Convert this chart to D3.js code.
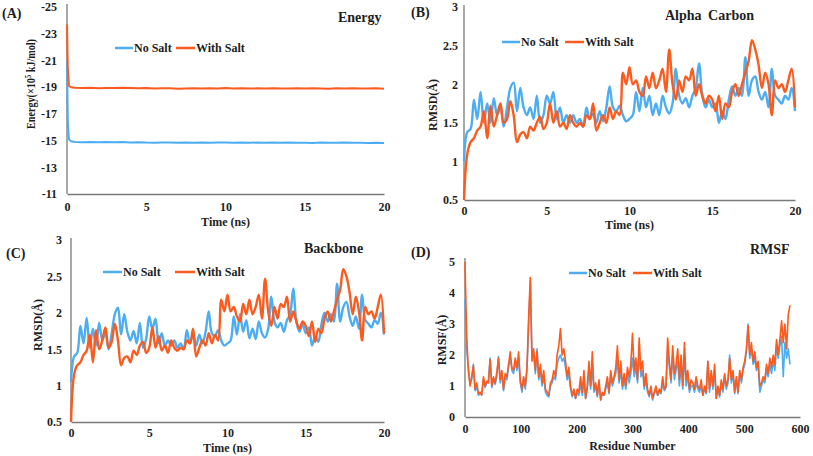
<!DOCTYPE html>
<html><head><meta charset="utf-8">
<script src="https://cdn.jsdelivr.net/npm/d3@7"></script>
<style>
body{margin:0;background:#fff}
svg text{font-family:"Liberation Serif","Times New Roman","DejaVu Serif",serif !important;font-weight:bold;fill:#1e1e1e}
</style>
</head><body>
<svg id="c" width="813" height="456" font-family="Liberation Serif, serif"></svg>
<script>
// ---------- DATA ----------
const timeTicks = [0, 5, 10, 15, 20];
const energyTicks = [-25, -23, -21, -19, -17, -15, -13, -11];
const rmsdTicks = [0.5, 1, 1.5, 2, 2.5, 3];
const residueTicks = [0, 100, 200, 300, 400, 500, 600];
const rmsfTicks = [0, 1, 2, 3, 4, 5];
const seriesNames = ["No Salt", "With Salt"];

const energyTime = [0,0.05,0.12,0.25,0.5,1,1.5,2,2.5,3,3.5,4,4.5,5,5.5,6,6.5,7,7.5,8,8.5,9,9.5,10,10.5,11,11.5,12,12.5,13,13.5,14,14.5,15,15.5,16,16.5,17,17.5,18,18.5,19,19.5,20];
const energyNoSalt = [-21.0,-16.5,-15.1,-14.95,-14.9,-14.88,-14.9,-14.87,-14.9,-14.88,-14.9,-14.86,-14.88,-14.85,-14.84,-14.85,-14.86,-14.83,-14.85,-14.84,-14.86,-14.83,-14.85,-14.86,-14.84,-14.85,-14.83,-14.85,-14.84,-14.86,-14.84,-14.85,-14.83,-14.84,-14.82,-14.85,-14.83,-14.84,-14.85,-14.83,-14.84,-14.82,-14.83,-14.82];
const energyWithSalt = [-23.7,-20.5,-19.1,-19.0,-18.95,-18.93,-18.95,-18.92,-18.94,-18.93,-18.95,-18.93,-18.92,-18.94,-18.9,-18.92,-18.91,-18.88,-18.9,-18.92,-18.9,-18.91,-18.9,-18.93,-18.9,-18.92,-18.89,-18.91,-18.9,-18.92,-18.9,-18.89,-18.91,-18.9,-18.92,-18.9,-18.88,-18.91,-18.9,-18.92,-18.9,-18.89,-18.91,-18.88];

// RMSD sampled every 0.2 ns (0 .. 20 ns)
const caNoSalt = [
1.0,1.38,1.42,1.8,1.55,1.9,1.5,1.75,1.5,1.82,
1.6,1.7,1.45,1.7,1.95,2.02,1.65,1.95,1.7,1.6,
1.7,1.55,1.85,1.5,1.6,1.85,1.75,1.9,1.55,1.7,
1.5,1.6,1.5,1.6,1.5,1.55,1.45,1.7,1.55,1.62,
1.5,1.65,1.52,1.7,1.97,1.7,1.65,1.72,1.6,1.52,
1.55,1.6,1.9,1.65,1.95,1.7,1.85,1.6,1.75,1.6,
1.85,1.7,1.62,1.75,2.2,1.85,1.75,1.82,1.7,1.85,
1.95,2.27,1.85,1.7,1.8,1.7,1.75,1.5,1.65,1.55,
1.8,1.97,1.85,1.95,1.85,2.35,1.85,2.05,2.1,1.9,
1.8,1.9,1.7,2.2,1.85,1.8,1.75,1.85,1.8,1.95,
1.65];
const caWithSalt = [
0.5,1.1,1.25,1.3,1.4,1.45,1.65,1.3,1.72,1.45,
1.6,1.75,1.5,1.55,1.78,1.6,1.25,1.35,1.38,1.3,
1.45,1.4,1.5,1.58,1.42,1.5,1.75,1.5,1.65,1.45,
1.5,1.42,1.6,1.5,1.45,1.5,1.45,1.6,1.55,1.75,
1.4,1.5,1.6,1.5,1.7,1.55,1.65,1.6,2.15,2.0,
2.22,2.0,2.05,1.9,1.85,2.1,1.95,2.15,1.95,2.05,
2.2,1.9,2.45,2.0,1.8,2.05,1.9,2.1,2.05,2.2,
1.85,2.0,1.85,1.75,1.85,1.8,1.65,1.85,1.55,1.75,
1.7,1.9,2.0,1.85,2.0,2.15,2.3,2.57,2.45,2.25,
1.95,2.15,2.0,1.6,2.05,1.95,2.0,1.9,2.05,2.2,
1.7];
const bbNoSalt = [
1.05,1.4,1.45,1.82,1.58,1.93,1.52,1.78,1.55,1.86,
1.62,1.74,1.5,1.72,1.98,2.07,1.7,1.98,1.74,1.62,
1.75,1.58,1.86,1.52,1.64,1.95,1.78,1.92,1.58,1.72,
1.55,1.62,1.55,1.62,1.52,1.58,1.5,1.76,1.58,1.7,
1.55,1.7,1.58,1.74,2.02,1.72,1.68,1.76,1.62,1.55,
1.58,1.62,1.95,1.7,1.98,1.74,1.9,1.65,1.78,1.64,
1.88,1.72,1.66,1.78,2.22,1.88,1.8,1.86,1.74,1.9,
1.98,2.33,1.88,1.74,1.85,1.72,1.8,1.55,1.68,1.6,
1.84,2.0,1.88,1.98,1.88,2.4,1.88,2.08,2.15,1.95,
1.82,1.95,1.78,2.25,1.9,1.85,1.8,1.9,1.85,2.0,
1.7];
const bbWithSalt = [
0.5,1.15,1.28,1.32,1.42,1.48,1.7,1.32,1.76,1.5,
1.62,1.8,1.52,1.6,1.85,1.62,1.28,1.38,1.4,1.32,
1.48,1.42,1.55,1.6,1.45,1.52,1.8,1.52,1.68,1.48,
1.55,1.45,1.62,1.52,1.48,1.52,1.5,1.62,1.58,1.78,
1.4,1.52,1.62,1.55,1.72,1.58,1.7,1.62,2.18,2.02,
2.25,2.02,2.08,1.95,1.88,2.12,1.98,2.18,1.98,2.08,
2.25,1.92,2.47,2.02,1.82,2.08,1.92,2.12,2.08,2.22,
1.88,2.02,1.88,1.78,1.88,1.82,1.68,1.88,1.6,1.78,
1.72,1.92,2.02,1.88,2.02,2.18,2.32,2.6,2.5,2.28,
1.98,2.22,2.02,1.62,2.08,1.98,2.02,1.92,2.08,2.25,
1.72];

// RMSF sampled every 3 residues (0 .. 582)
const rmsfNoSalt = [
3.8,2.2,1.6,1.1,1.2,1.7,0.85,1.0,0.7,0.75,
0.75,1.2,0.95,1.1,1.2,1.9,0.95,1.2,1.05,1.3,
1.95,1.1,1.4,0.85,1.3,1.2,1.6,1.9,1.5,1.4,
1.8,1.5,1.9,1.1,0.8,1.2,0.9,1.5,3.0,4.4,
1.9,2.0,1.4,2.2,1.2,1.5,1.0,1.3,0.8,0.7,
0.65,1.0,1.1,1.3,1.2,1.7,1.9,2.0,1.8,1.9,
1.6,1.2,1.4,0.9,0.65,0.8,0.6,0.8,0.7,1.1,
0.7,1.2,0.6,0.9,1.5,0.9,1.6,0.8,1.0,0.65,
1.1,0.55,0.75,0.7,0.9,1.1,0.75,1.3,1.0,1.2,
1.4,1.8,1.1,1.5,0.9,1.2,0.9,1.4,1.1,1.4,
1.9,1.3,1.6,1.1,2.1,1.3,1.5,0.9,1.2,0.8,
0.65,0.9,0.55,0.75,0.9,0.7,0.8,0.75,1.1,0.85,
0.95,2.2,1.6,1.1,2.0,1.2,1.5,1.8,1.0,1.7,
0.9,2.0,1.0,1.3,0.8,1.0,1.0,0.8,1.1,0.9,
0.8,1.0,0.7,0.9,0.75,1.8,0.8,1.4,0.9,1.5,
0.6,0.9,0.65,1.1,0.8,1.3,0.9,1.1,2.0,1.1,
1.4,0.75,1.2,0.75,1.4,1.1,1.5,1.7,2.1,3.0,
1.9,2.2,1.7,1.9,1.5,1.7,0.8,1.0,1.2,1.1,
1.5,1.3,1.7,1.4,1.8,1.5,2.3,1.9,2.3,2.6,
1.3,2.4,1.9,2.2,1.7];
const rmsfWithSalt = [
5.0,2.6,1.5,1.0,1.3,1.65,0.9,1.1,0.75,0.8,
0.7,1.3,1.0,1.15,1.1,1.85,1.0,1.3,1.1,1.45,
1.9,1.2,1.5,0.9,1.4,1.3,1.7,2.1,1.6,1.5,
1.9,1.6,2.1,1.2,0.9,1.3,1.0,1.6,3.2,4.5,
1.8,2.2,1.5,2.1,1.3,1.7,1.1,1.5,0.9,0.8,
0.7,1.1,1.2,1.5,1.3,2.0,2.3,2.85,2.0,2.2,
1.8,1.3,1.6,1.0,0.7,0.9,0.6,0.9,0.8,1.3,
0.8,1.5,0.6,1.0,1.8,1.0,2.1,0.9,1.1,0.7,
1.2,0.55,0.8,0.7,1.0,1.3,0.8,1.5,1.1,1.3,
1.6,2.3,1.2,1.8,1.0,1.4,1.0,1.6,1.3,1.7,
2.7,1.5,1.9,1.2,2.55,1.5,1.8,1.0,1.4,0.9,
0.7,1.0,0.6,0.8,1.0,0.7,0.9,0.8,1.3,0.9,
1.0,2.55,1.8,1.2,2.3,1.4,1.7,2.2,1.2,2.0,
1.0,2.4,1.2,1.5,0.9,1.2,1.1,0.9,1.3,1.0,
0.9,1.2,0.7,1.0,0.8,1.8,0.9,1.5,1.0,1.7,
0.6,1.0,0.7,1.2,0.9,1.4,1.0,1.2,1.9,1.2,
1.5,0.8,1.3,0.8,1.5,1.2,1.6,1.8,2.2,2.95,
2.0,2.4,1.8,2.1,1.6,1.8,1.0,1.1,1.3,1.2,
1.7,1.4,1.9,1.6,2.0,1.7,2.5,2.0,2.5,3.1,
2.4,3.0,2.2,3.3,3.6];

const rmsdTime = caNoSalt.map((_, i) => i * 0.2);
const residues = rmsfNoSalt.map((_, i) => i * 3);

// ---------- DRAW ----------
const BLUE = "#4dadf2", RED = "#fd5a1e", AXIS = "#7a7a7a";
const FONT = "'Liberation Serif', 'Times New Roman', 'DejaVu Serif', serif";
const svg = d3.select("#c");

function txt(sel, size) {
  return sel.attr("font-family", FONT).attr("font-weight", "bold").attr("font-size", size).attr("fill", "#1e1e1e");
}

function panel(o) {
  const g = svg.append("g");
  const x = d3.scaleLinear().domain(o.xDomain).range([o.x0, o.x1]);
  const y = d3.scaleLinear().domain(o.yDomain).range([o.y0, o.y1]);

  const xa = g.append("g").attr("transform", `translate(0,${o.y0})`)
    .call(d3.axisBottom(x).tickValues(o.xTicks).tickSize(0).tickSizeOuter(0).tickPadding(o.xPad).tickFormat(d => String(d)));
  const ya = g.append("g").attr("transform", `translate(${o.x0},0)`)
    .call(d3.axisLeft(y).tickValues(o.yTicks).tickSize(0).tickSizeOuter(0).tickPadding(o.yPad).tickFormat(d => String(d)));
  [xa, ya].forEach(a => {
    a.attr("font-family", FONT).attr("font-size", 12);
    a.select(".domain").attr("stroke", AXIS).attr("stroke-width", 1.3);
    txt(a.selectAll("text"), 12);
  });
  if (o.yTop !== undefined) ya.select(".domain").attr("d", `M0,${o.y0}V${o.yTop}`);

  const line = d3.line().x((d, i) => x(o.xs[i])).y(d => y(d)).curve(o.curve);
  g.append("path").datum(o.s1).attr("d", line).attr("fill", "none")
    .attr("stroke", BLUE).attr("stroke-width", o.lw).attr("stroke-linejoin", "round");
  g.append("path").datum(o.s2).attr("d", line).attr("fill", "none")
    .attr("stroke", RED).attr("stroke-width", o.lw).attr("stroke-linejoin", "round");

  // panel letter and title
  txt(g.append("text"), 14).attr("x", o.letter[1]).attr("y", o.letter[2]).text(o.letter[0]);
  txt(g.append("text"), 14).attr("x", o.title[1]).attr("y", o.title[2])
    .attr("word-spacing", o.title[3] || 0).text(o.title[0]);

  // axis titles
  txt(g.append("text"), 12).attr("x", (o.x0 + o.x1) / 2 + (o.xtDx || 0)).attr("y", o.xt[1])
    .attr("text-anchor", "middle").text(o.xt[0]);
  const yt = txt(g.append("text"), 12).attr("transform", `translate(${o.yt[1]},${o.yt[2]}) rotate(-90)`)
    .attr("text-anchor", "middle");
  if (o.yt[3]) yt.attr("textLength", o.yt[3]).attr("lengthAdjust", "spacingAndGlyphs");
  if (o.energyLabel) {
    yt.append("tspan").text("Energy(×10");
    yt.append("tspan").attr("font-size", 8).attr("dy", "-4").text("5");
    yt.append("tspan").attr("dy", "4").text(" kJ/mol)");
  } else yt.text(o.yt[0]);

  // legend
  const L = o.legend;
  [[L[0], L[1], BLUE, seriesNames[0]], [L[2], L[3], RED, seriesNames[1]]].forEach(([a, b, c, t]) => {
    g.append("line").attr("x1", a).attr("x2", b).attr("y1", L[4]).attr("y2", L[4])
      .attr("stroke", c).attr("stroke-width", 2.5);
    txt(g.append("text"), 12).attr("x", b + 1).attr("y", L[4] + 4).text(t);
  });
}

const smooth = d3.curveCatmullRom.alpha(0.5);

panel({
  xDomain: [0, 20], yDomain: [-11, -25], x0: 67, x1: 384, y0: 194, y1: 7, yTop: 4,
  xTicks: timeTicks, yTicks: energyTicks, xPad: 8, yPad: 10,
  xs: energyTime, s1: energyNoSalt, s2: energyWithSalt, curve: d3.curveLinear, lw: 2,
  letter: ["(A)", 2, 18], title: ["Energy", 338, 22],
  xt: ["Time (ns)", 226], yt: ["", 35, 84, 90], energyLabel: true,
  legend: [115, 133, 176, 195, 48]
});
panel({
  xDomain: [0, 20], yDomain: [0.5, 3], x0: 464, x1: 795, y0: 200, y1: 7, yTop: 5,
  xTicks: timeTicks, yTicks: rmsdTicks, xPad: 6, yPad: 6,
  xs: rmsdTime, s1: caNoSalt, s2: caWithSalt, curve: smooth, lw: 2.4,
  letter: ["(B)", 411, 17], title: ["Alpha Carbon", 665, 20, "3px"],
  xt: ["Time (ns)", 229], yt: ["RMSD(Å)", 437, 105],
  legend: [502, 520, 565, 584, 42]
});
panel({
  xDomain: [0, 20], yDomain: [0.5, 3], x0: 71, x1: 384, y0: 422, y1: 240, yTop: 238,
  xTicks: timeTicks, yTicks: rmsdTicks, xPad: 6, yPad: 9,
  xs: rmsdTime, s1: bbNoSalt, s2: bbWithSalt, curve: smooth, lw: 2.4,
  letter: ["(C)", 6, 258], title: ["Backbone", 304, 253],
  xt: ["Time (ns)", 452], yt: ["RMSD(Å)", 42, 325],
  legend: [103, 122, 175, 195, 272]
});
panel({
  xDomain: [0, 600], yDomain: [0, 5], x0: 465, x1: 800, y0: 417, y1: 262, yTop: 258,
  xTicks: residueTicks, yTicks: rmsfTicks, xPad: 7, yPad: 10,
  xs: residues, s1: rmsfNoSalt, s2: rmsfWithSalt, curve: d3.curveLinear, lw: 1.6,
  letter: ["(D)", 411, 257], title: ["RMSF", 750, 254],
  xt: ["Residue Number", 450], yt: ["RMSF(Å)", 446, 340],
  legend: [569, 587, 633, 652, 273]
});
</script>
</body></html>
